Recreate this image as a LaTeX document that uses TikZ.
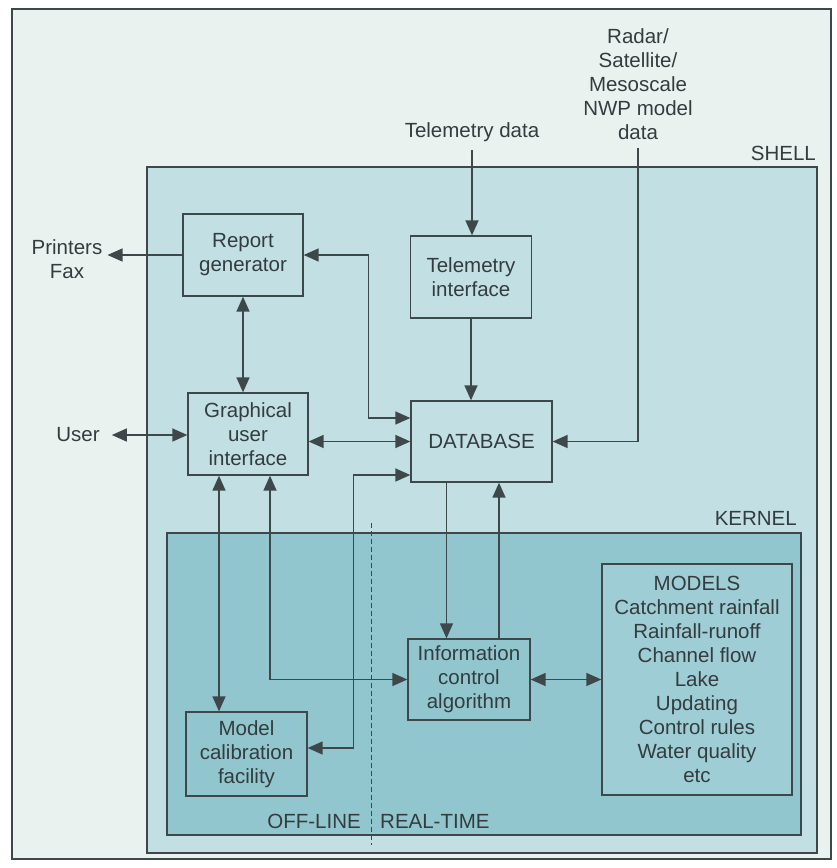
\documentclass[tikz,border=0pt]{standalone}
\usepackage{fontspec}
\setmainfont{Liberation Sans}
\usetikzlibrary{arrows.meta}
\definecolor{framebg}{HTML}{EAF2F0}
\definecolor{shellfill}{HTML}{C2DFE4}
\definecolor{kernelfill}{HTML}{92C6CF}
\definecolor{modelfill}{HTML}{9FCDD5}
\definecolor{linegray}{HTML}{3E4749}
\definecolor{textgray}{HTML}{333C3E}
\begin{document}
\begin{tikzpicture}[x=1pt,y=-1pt,
  every node/.style={font=\fontsize{20.5}{24}\selectfont, text=textgray, align=center, inner sep=2pt},
  blockbox/.style={draw=linegray, line width=1.3pt, inner sep=0pt},
  link/.style={draw=linegray, line width=1.4pt, -{Triangle[length=15pt,width=13pt]}},
  dlink/.style={link, {Triangle[length=15pt,width=13pt]}-{Triangle[length=15pt,width=13pt]}}]
  \useasboundingbox (0,0) rectangle (837,868);
  % frame, shell and kernel
  \draw[fill=framebg, draw=linegray, line width=2.5pt] (12,9) rectangle (831,859);
  \draw[fill=shellfill, draw=linegray, line width=1.3pt] (147,167) rectangle (817,853);
  \draw[fill=kernelfill, draw=linegray, line width=1.3pt] (167,533) rectangle (801,835);
  \node[anchor=east] (shelllbl) at (818,153) {SHELL};
  \node[anchor=east] (kernellbl) at (799,518) {KERNEL};
  \draw[linegray, line width=0.8pt, dash pattern=on 5pt off 3pt] (371,523) -- (371,845);
  \node[anchor=east] (offline) at (363,821) {OFF-LINE};
  \node[anchor=west] (realtime) at (378,821) {REAL-TIME};

  % outside sources and sinks
  \node (teld) at (472,132) {Telemetry data};
  \node (radar) at (638,84) {Radar/\\Satellite/\\Mesoscale\\NWP model\\data};
  \node (prn) at (67,259) {Printers\\Fax};
  \node (user) at (78,435) {User};

  % blocks
  \node[blockbox, minimum width=120pt, minimum height=82pt] (rep) at (243,255) {Report\\generator};
  \node[blockbox, minimum width=121pt, minimum height=82pt] (tel) at (471,277) {Telemetry\\interface};
  \node[blockbox, minimum width=120pt, minimum height=82pt] (gui) at (248,434) {Graphical\\user\\interface};
  \node[blockbox, minimum width=141pt, minimum height=81pt] (db) at (481.5,441.5) {DATABASE};
  \node[blockbox, minimum width=122pt, minimum height=81pt] (ica) at (469,679.5) {Information\\control\\algorithm};
  \node[blockbox, minimum width=121pt, minimum height=84pt] (mcf) at (246.5,754) {Model\\calibration\\facility};
  \node[blockbox, fill=modelfill, minimum width=190pt, minimum height=231pt] (mod) at (697,679.5)
    {MODELS\\Catchment rainfall\\Rainfall-runoff\\Channel flow\\Lake\\Updating\\Control rules\\Water quality\\etc};

  % connectors
  \draw[link, shorten <=6pt] (teld.south) -- (teld.south |- tel.north);
  \draw[link] (tel.south) -- (tel.south |- db.north);
  \draw[link, shorten <=6pt] (radar.south) |- (db.east);
  \draw[link, shorten >=3pt] (rep.west) -- (rep.west -| prn.east);
  \draw[dlink] (rep.east) -- ++(65,0) |- ([yshift=23.5pt]db.west);
  \draw[dlink] (rep.south) -- (rep.south |- gui.north);
  \draw[dlink, shorten <=10pt] (user.east) -- (user.east -| gui.west);
  \draw[dlink] (gui.east |- db.west) -- (db.west);
  \draw[dlink] ([yshift=-33.5pt]db.west) -- ++(-57,0) |- ([yshift=6pt]mcf.east);
  \draw[dlink] ([xshift=-29pt]gui.south) -- ([xshift=-29pt]gui.south |- mcf.north);
  \draw[dlink] ([xshift=22pt]gui.south) |- (ica.west);
  \draw[link] ([xshift=-35pt]db.south) -- ([xshift=-35pt]db.south |- ica.north);
  \draw[link] ([xshift=30pt]ica.north) -- ([xshift=30pt]ica.north |- db.south);
  \draw[dlink] (ica.east) -- (mod.west);
\end{tikzpicture}
\end{document}
